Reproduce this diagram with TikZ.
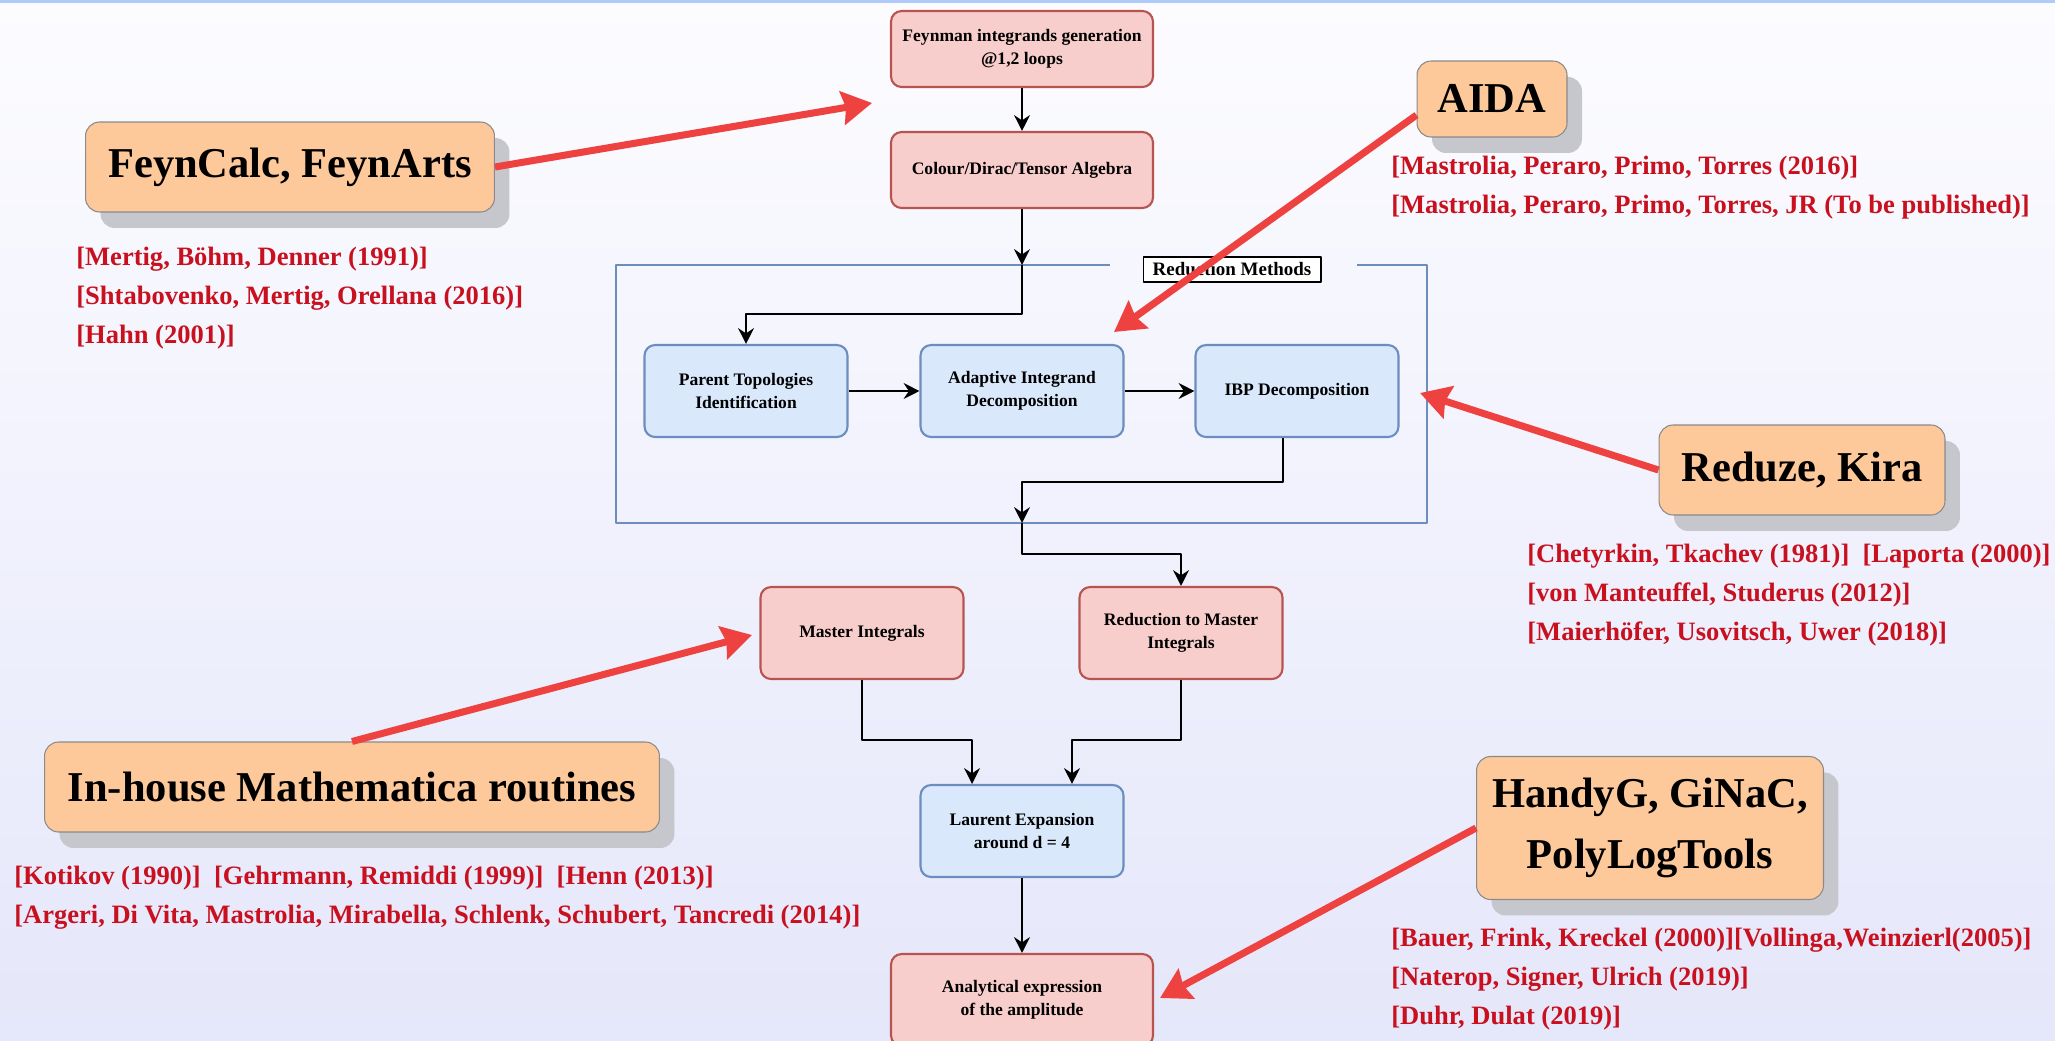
\documentclass[tikz,border=0pt]{standalone}
\usepackage{fontspec}
\setmainfont{Liberation Serif}
\usetikzlibrary{arrows.meta,shadows}

\definecolor{bgtop}{HTML}{FCFCFF}
\definecolor{bgbot}{HTML}{E5E7FA}
\definecolor{topbar}{HTML}{AECBFA}
\definecolor{pinkfill}{HTML}{F8CECC}
\definecolor{pinkline}{HTML}{B85450}
\definecolor{bluefill}{HTML}{DAE8FC}
\definecolor{blueline}{HTML}{6C8EBF}
\definecolor{toolfill}{HTML}{FDC99B}
\definecolor{toolline}{HTML}{8A8A8A}
\definecolor{toolshadow}{HTML}{C6C6CD}
\definecolor{arrowred}{HTML}{EE4240}
\definecolor{citered}{HTML}{C8101E}

\begin{document}
\begin{tikzpicture}[x=0.02cm,y=-0.02cm,line join=round,
    stepbox/.style={rounded corners=6pt,line width=1.2pt,align=center,
      minimum width=4.06cm,minimum height=1.84cm,
      font={\fontsize{10}{13}\selectfont\bfseries}},
    pinkbox/.style={stepbox,draw=pinkline,fill=pinkfill},
    bluebox/.style={stepbox,draw=blueline,fill=bluefill},
    toolbox/.style={draw=toolline,fill=toolfill,line width=0.6pt,
      rounded corners=8pt,align=center,
      font={\fontsize{24.2}{35}\selectfont\bfseries},
      drop shadow={shadow xshift=0.3cm,shadow yshift=-0.32cm,
        fill=toolshadow,opacity=1}},
    cite/.style={anchor=west,inner sep=0pt,align=left,text=citered,
      font={\fontsize{15.1}{22.2}\selectfont\bfseries}},
    flow/.style={draw=black,line width=1.1pt,
      -{Stealth[length=9pt,width=9pt,inset=3pt]}},
    hint/.style={draw=arrowred,line width=4pt,
      -{Stealth[length=17pt,width=19pt,inset=2pt]}}]

  % background
  \shade[top color=bgtop,bottom color=bgbot] (0,0) rectangle (2055,1041);
  \fill[topbar] (0,0) rectangle (2055,3);
  \useasboundingbox (0,0) rectangle (2055,1041);

  % reduction frame
  \coordinate (frametop) at (1022,265);
  \coordinate (framebot) at (1022,523);
  \draw[blueline,line width=1.4pt] (1110,265) -- (616,265) -- (616,523)
    -- (1427,523) -- (1427,265) -- (1357,265);
  \node[draw,fill=white,line width=0.6pt,minimum width=3.56cm,
    minimum height=0.5cm,inner sep=0pt,
    font={\fontsize{10.8}{13}\selectfont\bfseries}]
    (redlabel) at (1232,269.5) {Reduction Methods};

  % main chain
  \node[pinkbox,minimum width=5.24cm,minimum height=1.52cm] (feyn)
    at (1022,49) {Feynman integrands generation\\@1,2 loops};
  \node[pinkbox,minimum width=5.24cm,minimum height=1.52cm] (colour)
    at (1022,170) {Colour/Dirac/Tensor Algebra};
  \node[bluebox] (parent) at (746,391) {Parent Topologies\\Identification};
  \node[bluebox] (adaptive) at (1022,391) {Adaptive Integrand\\Decomposition};
  \node[bluebox] (ibp) at (1297,391) {IBP Decomposition};
  \node[pinkbox] (master) at (862,633) {Master Integrals};
  \node[pinkbox] (redmaster) at (1181,633) {Reduction to Master\\Integrals};
  \node[bluebox] (laurent) at (1022,831) {Laurent Expansion\\around d = 4};
  \node[pinkbox,minimum width=5.24cm] (analytic)
    at (1022,1000) {Analytical expression\\of the amplitude};

  \draw[flow] (feyn) -- (colour);
  \draw[flow] (colour) -- (frametop);
  \draw[flow] (frametop) -- ++(0,49) -| (parent);
  \draw[flow] (parent) -- (adaptive);
  \draw[flow] (adaptive) -- (ibp);
  \draw[flow] ([xshift=-0.28cm]ibp.south) -- ++(0,44) -| (framebot);
  \draw[flow] (framebot) -- ++(0,31) -| (redmaster);
  \draw[flow] (master.south) -- ++(0,60) -| ([xshift=-1cm]laurent.north);
  \draw[flow] (redmaster.south) -- ++(0,60) -| ([xshift=1cm]laurent.north);
  \draw[flow] (laurent) -- (analytic);

  % tools
  \node[toolbox,minimum width=8.18cm,minimum height=1.8cm] (feyncalc)
    at (290,167) {FeynCalc, FeynArts};
  \node[toolbox,minimum width=3cm,minimum height=1.52cm] (aida)
    at (1492,99) {AIDA};
  \node[toolbox,minimum width=5.72cm,minimum height=1.8cm] (reduze)
    at (1802,470) {Reduze, Kira};
  \node[toolbox,minimum width=12.3cm,minimum height=1.8cm] (inhouse)
    at (352,787) {In-house Mathematica routines};
  \node[toolbox,minimum width=6.94cm,minimum height=2.86cm] (handyg)
    at (1650,828) {HandyG, GiNaC,\\PolyLogTools};

  % references
  \node[cite] (citefc) at (76,298) {[Mertig, Böhm, Denner (1991)]\\\relax
    [Shtabovenko, Mertig, Orellana (2016)]\\\relax [Hahn (2001)]};
  \node[cite] (citeaida) at (1391,188) {[Mastrolia, Peraro, Primo, Torres (2016)]\\\relax
    [Mastrolia, Peraro, Primo, Torres, JR (To be published)]};
  \node[cite] (citereduze) at (1527,595) {[Chetyrkin, Tkachev (1981)]\ \ [Laporta (2000)]\\\relax
    [von Manteuffel, Studerus (2012)]\\\relax [Maierhöfer, Usovitsch, Uwer (2018)]};
  \node[cite] (citeinhouse) at (14,898) {[Kotikov (1990)]\ \ [Gehrmann, Remiddi (1999)]\ \ [Henn (2013)]\\\relax
    [Argeri, Di Vita, Mastrolia, Mirabella, Schlenk, Schubert, Tancredi (2014)]};
  \node[cite] (citehandyg) at (1391,979) {[Bauer, Frink, Kreckel (2000)][Vollinga,Weinzierl(2005)]\\\relax
    [Naterop, Signer, Ulrich (2019)]\\\relax [Duhr, Dulat (2019)]};

  % tool hints
  \coordinate (fctip) at (872,103);
  \coordinate (aidatip) at (1114,332);
  \coordinate (reduzetip) at (1420,393);
  \coordinate (inhousetip) at (752,635);
  \coordinate (handygtip) at (1160,998);
  \draw[hint] (feyncalc.east) -- (fctip);
  \draw[hint] (aida.192) -- (aidatip);
  \draw[hint] (reduze.west) -- (reduzetip);
  \draw[hint] (inhouse.north) -- (inhousetip);
  \draw[hint] (handyg.west) -- (handygtip);
\end{tikzpicture}
\end{document}
